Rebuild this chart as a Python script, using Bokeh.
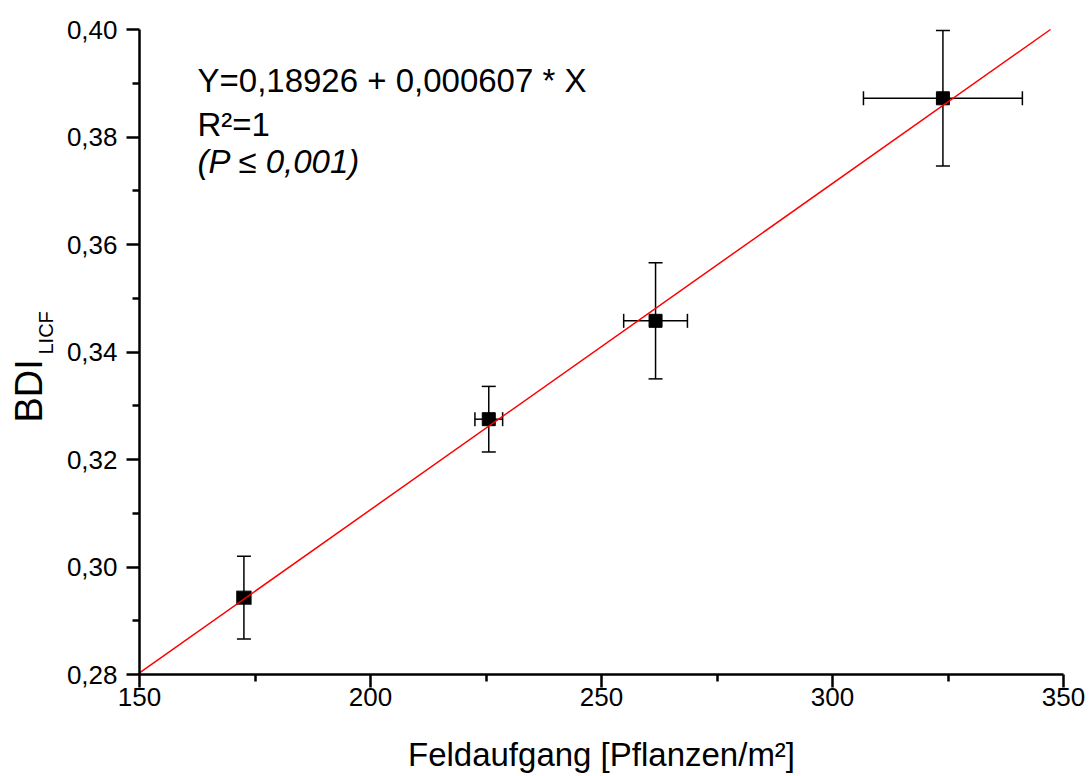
import numpy as np
from bokeh.plotting import figure
from bokeh.models import Range1d, FixedTicker, CustomJSTickFormatter, Label
from bokeh.embed import file_html
from bokeh.resources import INLINE

# ---------------- data ----------------
feldaufgang = [172.6, 225.6, 261.7, 323.9]          # Pflanzen/m²
feldaufgang_err = [1.5, 3.0, 6.9, 17.2]
bdi_licf = [0.2943, 0.3275, 0.3458, 0.3872]
bdi_licf_err = [0.0077, 0.0061, 0.0108, 0.0126]

fit_intercept = 0.18926
fit_slope = 0.000607

x_ticks = [150, 200, 250, 300, 350]
x_minor_ticks = [175, 225, 275, 325]
y_ticks = [0.28, 0.30, 0.32, 0.34, 0.36, 0.38, 0.40]
y_minor_ticks = [0.29, 0.31, 0.33, 0.35, 0.37, 0.39]

eq_lines = ["Y=0,18926 + 0,000607 * X", "R\u00b2=1", "(P \u2264 0,001)"]
x_title = "Feldaufgang [Pflanzen/m\u00b2]"
y_title = "BDI"
y_title_sub = "LICF"

# ---------------- layout (pixels) ----------------
W, H = 1090, 776
AX_L, AX_T, AX_R, AX_B = 139, 29, 1063, 674      # axis box in canvas pixels
X0, X1 = 150, 350
Y0, Y1 = 0.28, 0.40
FONT = "Liberation Sans"

kx = (AX_R - AX_L) / (X1 - X0)
ky = (AX_B - AX_T) / (Y1 - Y0)
x_lo, x_hi = X0 - AX_L / kx, X1 + (W - AX_R) / kx
y_lo, y_hi = Y0 - (H - AX_B) / ky, Y1 + AX_T / ky


def px_x(px):
    return X0 + (px - AX_L) / kx


def px_y(py):
    return Y1 - (py - AX_T) / ky


p = figure(width=W, height=H, x_range=Range1d(x_lo, x_hi), y_range=Range1d(y_lo, y_hi),
           output_backend="svg", toolbar_location=None, title=None,
           min_border_left=0, min_border_top=0, min_border_right=0, min_border_bottom=0)
p.xgrid.visible = False
p.ygrid.visible = False
p.outline_line_color = None
p.background_fill_color = "white"
p.border_fill_color = "white"

for ax in (p.xaxis[0], p.yaxis[0]):
    ax.axis_line_width = 2.5
    ax.axis_line_color = "black"
    ax.major_tick_line_width = 2.5
    ax.minor_tick_line_width = 2.5
    ax.major_tick_line_color = "black"
    ax.minor_tick_line_color = "black"
    ax.major_tick_in = 0
    ax.major_tick_out = 13
    ax.minor_tick_in = 0
    ax.minor_tick_out = 7
    ax.major_label_text_font = FONT
    ax.major_label_text_font_size = "26px"
    ax.major_label_text_color = "black"

p.xaxis.fixed_location = Y0
p.yaxis.fixed_location = X0
p.xaxis.bounds = (X0, X1)
p.yaxis.bounds = (Y0, Y1)
p.xaxis.ticker = FixedTicker(ticks=x_ticks, minor_ticks=x_minor_ticks)
p.yaxis.ticker = FixedTicker(ticks=y_ticks, minor_ticks=y_minor_ticks)
p.xaxis.major_label_standoff = 0
p.yaxis.major_label_standoff = 9
p.xaxis.formatter = CustomJSTickFormatter(code="return tick.toFixed(0);")
p.yaxis.formatter = CustomJSTickFormatter(code="return tick.toFixed(2).replace('.', ',');")

x = np.array(feldaufgang)
y = np.array(bdi_licf)
xe = np.array(feldaufgang_err)
ye = np.array(bdi_licf_err)

# error bars
p.segment(x0=x, y0=y - ye, x1=x, y1=y + ye, line_color="black", line_width=1.5)
p.segment(x0=x - xe, y0=y, x1=x + xe, y1=y, line_color="black", line_width=1.5)
p.scatter(np.concatenate([x, x]), np.concatenate([y - ye, y + ye]), marker="dash",
          size=14, line_color="black", line_width=1.5)
p.scatter(np.concatenate([x - xe, x + xe]), np.concatenate([y, y]), marker="dash",
          size=14, angle=np.pi / 2, line_color="black", line_width=1.5)

# points
p.scatter(x, y, marker="square", size=13, fill_color="black", line_color="black")

# fit line, clipped to the axis box
fx = np.array([X0, min(X1, (Y1 - fit_intercept) / fit_slope)])
p.line(fx, fit_intercept + fit_slope * fx, line_color="red", line_width=1.5)

# equation text
eq_baselines = [80, 124, 161]
for i, (t, b) in enumerate(zip(eq_lines, eq_baselines)):
    p.add_layout(Label(x=px_x(197), y=px_y(b), text=t, text_font=FONT,
                       text_font_size="33px", text_color="black",
                       text_font_style="italic" if i == 2 else "normal",
                       text_align="left", text_baseline="alphabetic"))

# axis titles
p.add_layout(Label(x=px_x((AX_L + AX_R) / 2), y=px_y(754), text=x_title, text_font=FONT,
                   text_font_size="33px", text_color="black",
                   text_align="center", text_baseline="alphabetic"))
p.add_layout(Label(x=px_x(28), y=px_y(422), text=y_title, text_font=FONT,
                   text_font_size="38px", text_color="black", angle=np.pi / 2,
                   text_align="left", text_baseline="alphabetic"))
p.add_layout(Label(x=px_x(45.5), y=px_y(354), text=y_title_sub, text_font=FONT,
                   text_font_size="20px", text_color="black", angle=np.pi / 2,
                   text_align="left", text_baseline="alphabetic"))

open("out.html", "w").write(file_html(p, INLINE))
